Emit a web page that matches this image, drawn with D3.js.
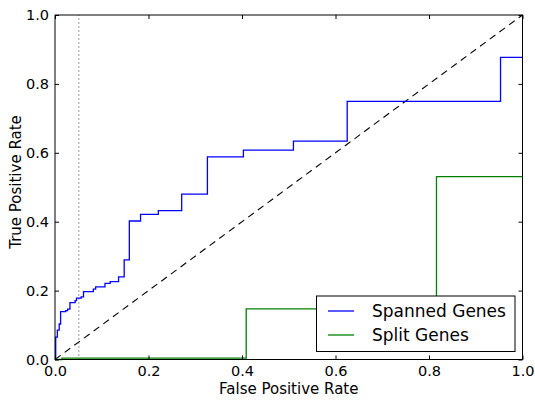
<!DOCTYPE html>
<html>
<head>
<meta charset="utf-8">
<script src="https://cdn.jsdelivr.net/npm/d3@7"></script>
<style>
  body { margin: 0; background: white; }
  svg { display: block; font-family: "DejaVu Sans", sans-serif; }
</style>
</head>
<body>
<svg id="chart" width="535" height="400"></svg>
<script>
// ROC points (step after each point)
const spannedFpr = [0, 0.0015, 0.005, 0.009, 0.012, 0.023, 0.027, 0.032, 0.043, 0.046, 0.056, 0.061, 0.082, 0.087, 0.107, 0.118, 0.136, 0.148, 0.159, 0.183, 0.221, 0.271, 0.326, 0.403, 0.51, 0.625, 0.953, 1];
const spannedTpr = [0, 0.065, 0.085, 0.103, 0.139, 0.142, 0.146, 0.165, 0.171, 0.178, 0.182, 0.197, 0.204, 0.211, 0.221, 0.226, 0.240, 0.289, 0.402, 0.421, 0.432, 0.480, 0.588, 0.608, 0.634, 0.749, 0.877, 0.877];
const splitFpr = [0, 0.015, 0.409, 0.816, 1];
const splitTpr = [0, 0.004, 0.147, 0.531, 0.531];
const ticks = [0, 0.2, 0.4, 0.6, 0.8, 1.0];
const cutoff = 0.051;
const seriesNames = ["Spanned Genes", "Split Genes"];
const seriesColors = ["#0000ff", "#008000"];

const svg = d3.select("#chart");
const m = {left: 55, right: 522.5, top: 15, bottom: 359.5};

const x = d3.scaleLinear().domain([0, 1]).range([m.left, m.right]);
const y = d3.scaleLinear().domain([0, 1]).range([m.bottom, m.top]);

const stepLine = d3.line().x(d => x(d[0])).y(d => y(d[1])).curve(d3.curveStepAfter);
const plain = d3.line().x(d => x(d[0])).y(d => y(d[1]));

const series = [
  d3.zip(spannedFpr, spannedTpr),
  d3.zip(splitFpr, splitTpr)
];

// chance diagonal
svg.append("path")
  .attr("d", plain([[0, 0], [1, 1]]))
  .attr("fill", "none").attr("stroke", "black")
  .attr("stroke-width", 1.1).attr("stroke-dasharray", "7,5");

// cutoff line
svg.append("path")
  .attr("d", plain([[cutoff, 0], [cutoff, 1]]))
  .attr("fill", "none").attr("stroke", "#333")
  .attr("stroke-width", 1).attr("stroke-dasharray", "1,3");

series.forEach((pts, i) => {
  svg.append("path")
    .attr("d", stepLine(pts))
    .attr("fill", "none")
    .attr("stroke", seriesColors[i])
    .attr("stroke-width", 1.3);
});

// frame
svg.append("rect")
  .attr("x", m.left).attr("y", m.top)
  .attr("width", m.right - m.left).attr("height", m.bottom - m.top)
  .attr("fill", "none").attr("stroke", "black").attr("stroke-width", 1);

// inward ticks on all sides (matplotlib classic look)
const fmt = d3.format(".1f");
const axB = d3.axisBottom(x).tickValues(ticks).tickFormat(fmt).tickSizeInner(-4).tickSizeOuter(0).tickPadding(6.2);
const axT = d3.axisTop(x).tickValues(ticks).tickFormat("").tickSizeInner(-4).tickSizeOuter(0);
const axL = d3.axisLeft(y).tickValues(ticks).tickFormat(fmt).tickSizeInner(-4).tickSizeOuter(0).tickPadding(6);
const axR = d3.axisRight(y).tickValues(ticks).tickFormat("").tickSizeInner(-4).tickSizeOuter(0);

[[axB, `translate(0,${m.bottom})`], [axT, `translate(0,${m.top})`],
 [axL, `translate(${m.left},0)`], [axR, `translate(${m.right},0)`]].forEach(([ax, tr]) => {
  const g = svg.append("g").attr("transform", tr).call(ax);
  g.select(".domain").remove();
  g.selectAll("line").attr("stroke", "black");
  g.selectAll("text").attr("font-size", 14.5).attr("font-family", "DejaVu Sans").attr("fill", "black");
});

svg.append("text")
  .attr("x", (m.left + m.right) / 2).attr("y", 393.5)
  .attr("text-anchor", "middle").attr("font-size", 15)
  .text("False Positive Rate");

svg.append("text")
  .attr("transform", `translate(21,182) rotate(-90)`)
  .attr("text-anchor", "middle").attr("font-size", 15)
  .text("True Positive Rate");

// legend
const leg = svg.append("g");
leg.append("rect")
  .attr("x", 316.5).attr("y", 296)
  .attr("width", 198.5).attr("height", 55.5)
  .attr("fill", "white").attr("stroke", "black").attr("stroke-width", 1);
seriesNames.forEach((name, i) => {
  const ly = 311 + i * 24;
  leg.append("line")
    .attr("x1", 328).attr("x2", 354).attr("y1", ly).attr("y2", ly)
    .attr("stroke", seriesColors[i]).attr("stroke-width", 1.3);
  leg.append("text")
    .attr("x", 372).attr("y", ly + 6)
    .attr("font-size", 17)
    .text(name);
});
</script>
</body>
</html>
